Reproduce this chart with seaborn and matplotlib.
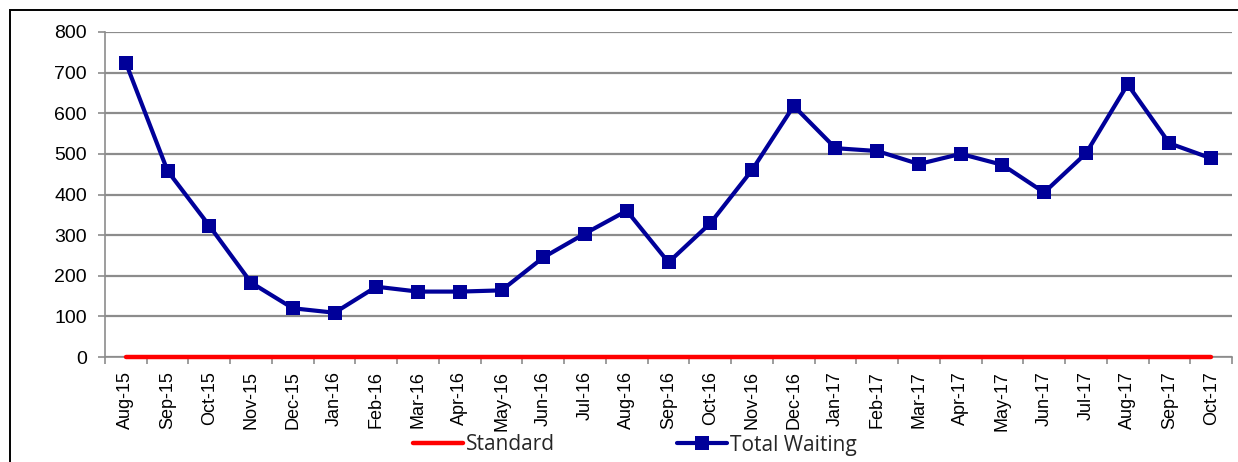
import numpy as np
import matplotlib
matplotlib.use("Agg")
import matplotlib.pyplot as plt
import seaborn as sns
import pandas as pd

months = ["Aug-15", "Sep-15", "Oct-15", "Nov-15", "Dec-15", "Jan-16", "Feb-16",
          "Mar-16", "Apr-16", "May-16", "Jun-16", "Jul-16", "Aug-16", "Sep-16",
          "Oct-16", "Nov-16", "Dec-16", "Jan-17", "Feb-17", "Mar-17", "Apr-17",
          "May-17", "Jun-17", "Jul-17", "Aug-17", "Sep-17", "Oct-17"]
total_waiting = [724, 458, 323, 183, 120, 109, 173, 161, 161, 164, 245, 304, 360,
                 233, 329, 460, 618, 514, 507, 475, 500, 473, 405, 501, 671, 526, 489]
standard = [0] * len(months)

df = pd.DataFrame({"Month": months, "Total Waiting": total_waiting, "Standard": standard})

sns.set_style("white")
plt.rcParams["font.family"] = ["Liberation Sans", "DejaVu Sans"]

fig = plt.figure(figsize=(12.38, 4.62), dpi=100)
ax = fig.add_axes([105/1238, 1-357/462, (1232-105)/1238, (357-32)/462])

x = np.arange(len(months))
sns.lineplot(x=x, y=df["Standard"], ax=ax, color="#ff0000", linewidth=3.2,
             label="Standard", zorder=4, clip_on=False)
sns.lineplot(x=x, y=df["Total Waiting"], ax=ax, color="#000099", linewidth=3,
             marker="s", markersize=10, markeredgewidth=0, label="Total Waiting",
             zorder=5, clip_on=False)

ax.set_xlim(-0.5, len(months) - 0.5)
ax.set_ylim(0, 800)
ax.set_yticks(range(0, 801, 100))
ax.yaxis.grid(True, color="#8c8c8c", linewidth=1.6)
ax.set_axisbelow(True)
ax.set_xticks(x)
ax.set_xticklabels(months, rotation=90, fontsize=13, color="black")
ax.set_xticks(np.arange(-0.5, len(months)), minor=True)
ax.tick_params(axis="x", which="major", length=0, pad=10)
ax.tick_params(axis="x", which="minor", length=5, width=1.2, color="#8c8c8c",
               direction="out", bottom=True)
ax.tick_params(axis="y", length=5, width=1.2, color="#8c8c8c", labelsize=14,
               labelcolor="black", direction="out", left=True, pad=8)
ax.set_xlabel("")
ax.set_ylabel("")
for s in ["top", "right"]:
    ax.spines[s].set_visible(False)
for s in ["left", "bottom"]:
    ax.spines[s].set_color("#8c8c8c")
    ax.spines[s].set_linewidth(1.2)

ax.get_legend().remove()
handles, labels = ax.get_legend_handles_labels()
fig.legend(handles, labels, loc="center left", ncol=2, frameon=False,
           bbox_to_anchor=(413/1238, 1-445/462), borderaxespad=0, borderpad=0,
           handlelength=2.4, handletextpad=0.12, columnspacing=5.9,
           prop={"family": "Open Sans", "size": 15})

border = plt.Rectangle((9.5/1238, -0.05), 1.1, 1-9.5/462+0.05,
                       transform=fig.transFigure, fill=False,
                       edgecolor="black", linewidth=1.4)
fig.patches.append(border)

fig.savefig("out.png", dpi=100)
